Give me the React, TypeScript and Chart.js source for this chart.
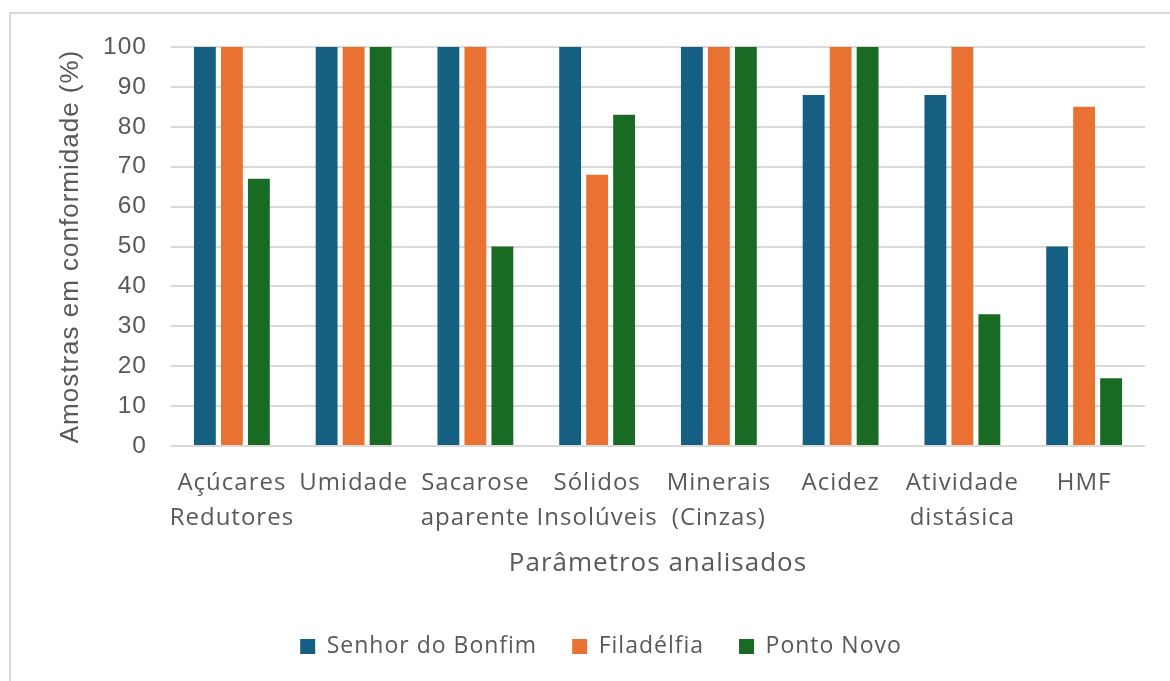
import React, { useEffect, useRef } from "react";
import { Chart, registerables } from "chart.js";

Chart.register(...registerables);

const categories: (string | string[])[] = [
  ["Açúcares", "Redutores"],
  "Umidade",
  ["Sacarose", "aparente"],
  ["Sólidos", "Insolúveis"],
  ["Minerais", "(Cinzas)"],
  "Acidez",
  ["Atividade", "distásica"],
  "HMF",
];
const senhorDoBonfim = [100, 100, 100, 100, 100, 88, 88, 50];
const filadelfia = [100, 100, 100, 68, 100, 100, 100, 85];
const pontoNovo = [67, 100, 50, 83, 100, 100, 33, 17];
const seriesNames = ["Senhor do Bonfim", "Filadélfia", "Ponto Novo"];
const seriesColors = ["#156082", "#E97132", "#196B24"];
const yTitle = "Amostras em conformidade (%)";
const xTitle = "Parâmetros analisados";

const FONT = "'Open Sans', sans-serif";
const YFONT = "'Liberation Sans', Arial, sans-serif";
const TEXT = "#595959";

const spacingPlugin = {
  id: "letterSpacing",
  beforeUpdate(chart: any) {
    chart.ctx.letterSpacing = "1px";
  },
  beforeDraw(chart: any) {
    chart.ctx.letterSpacing = "1px";
  },
};

export default function App() {
  const ref = useRef<HTMLCanvasElement | null>(null);
  useEffect(() => {
    if (!ref.current) return;
    const chart = new Chart(ref.current, {
      type: "bar",
      data: {
        labels: categories,
        datasets: [senhorDoBonfim, filadelfia, pontoNovo].map((d, i) => ({
          label: seriesNames[i],
          data: d,
          backgroundColor: seriesColors[i],
          borderWidth: 0,
          categoryPercentage: 0.665,
          barPercentage: 0.81,
        })),
      },
      plugins: [spacingPlugin],
      options: {
        responsive: false,
        animation: false,
        layout: { padding: { left: 57, right: 25, top: 47, bottom: 13 } },
        plugins: {
          tooltip: { enabled: false },
          legend: {
            position: "bottom",
            labels: {
              color: TEXT,
              font: { family: FONT, size: 23 },
              boxWidth: 15,
              boxHeight: 15,
              padding: 35,
            },
          },
        },
        scales: {
          x: {
            grid: { display: false },
            border: { display: false },
            ticks: {
              color: TEXT,
              font: { family: FONT, size: 24, lineHeight: 35 / 24 },
              padding: 12,
              maxRotation: 0,
              autoSkip: false,
            },
            title: {
              display: true,
              text: xTitle,
              color: TEXT,
              font: { family: FONT, size: 26, lineHeight: 1.2 },
              padding: { top: 0, bottom: 21.3 },
            },
            afterFit: (s: any) => {
              s.height = 154;
            },
          },
          y: {
            min: 0,
            max: 100,
            ticks: {
              stepSize: 10,
              color: TEXT,
              font: { family: YFONT, size: 24.5 },
              padding: 24,
            },
            grid: { color: "#d9d9d9", lineWidth: 2, drawTicks: false },
            border: { display: false },
            title: {
              display: true,
              text: yTitle,
              color: TEXT,
              font: { family: YFONT, size: 26, lineHeight: 1.1 },
              padding: { top: 0, bottom: 0 },
            },
            afterFit: (s: any) => {
              s.width = 114;
            },
          },
        },
      },
    });
    return () => chart.destroy();
  }, []);
  return (
    <div style={{ position: "fixed", left: 0, top: 0, width: 1170, height: 681, overflow: "hidden", background: "#fff" }}>
      <div
        style={{
          position: "absolute",
          left: 9,
          top: 12,
          width: 1180,
          height: 700,
          border: "2px solid #d9d9d9",
          boxSizing: "border-box",
        }}
      />
      <canvas ref={ref} width={1170} height={681} style={{ position: "absolute", left: 0, top: 0 }} />
    </div>
  );
}
